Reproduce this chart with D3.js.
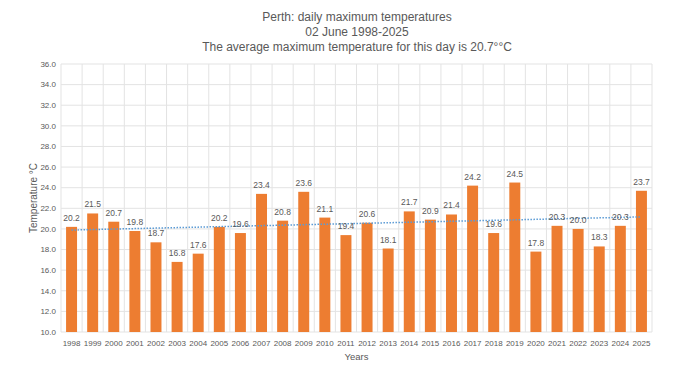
<!DOCTYPE html>
<html>
<head>
<meta charset="utf-8">
<script src="https://cdn.jsdelivr.net/npm/d3@7"></script>
<style>
  body { margin: 0; background: #fff; }
  text { font-family: "Liberation Sans", Arial, sans-serif; fill: #595959; }
</style>
</head>
<body>
<div id="chart"></div>
<script>
var years = ["1998","1999","2000","2001","2002","2003","2004","2005","2006","2007",
  "2008","2009","2010","2011","2012","2013","2014","2015","2016","2017",
  "2018","2019","2020","2021","2022","2023","2024","2025"];
var temps = [20.2,21.5,20.7,19.8,18.7,16.8,17.6,20.2,19.6,23.4,
  20.8,23.6,21.1,19.4,20.6,18.1,21.7,20.9,21.4,24.2,
  19.6,24.5,17.8,20.3,20.0,18.3,20.3,23.7];
var yTicks = [10,12,14,16,18,20,22,24,26,28,30,32,34,36];
var titleLines = ["Perth: daily maximum temperatures", "02 June 1998-2025",
  "The average maximum temperature for this day is 20.7°°C"];

var width = 679, height = 375;
var margin = {top: 64, right: 27, bottom: 43, left: 61};

var svg = d3.select("#chart").append("svg")
    .attr("width", width)
    .attr("height", height);

var x = d3.scaleBand()
    .domain(years)
    .range([margin.left, width - margin.right])
    .paddingInner(0.48)
    .paddingOuter(0.24);

var y = d3.scaleLinear()
    .domain([10, 36])
    .range([height - margin.bottom, margin.top]);

// horizontal grid
svg.append("g")
  .selectAll("line")
  .data(yTicks)
  .enter().append("line")
    .attr("x1", margin.left)
    .attr("x2", width - margin.right)
    .attr("y1", function(d) { return y(d); })
    .attr("y2", function(d) { return y(d); })
    .attr("stroke", "#e3e3e3")
    .attr("stroke-width", 1);

// vertical grid at category boundaries
var colW = (width - margin.left - margin.right) / years.length;
svg.append("g")
  .selectAll("line")
  .data(d3.range(years.length + 1))
  .enter().append("line")
    .attr("x1", function(i) { return margin.left + i * colW; })
    .attr("x2", function(i) { return margin.left + i * colW; })
    .attr("y1", y(10))
    .attr("y2", y(36))
    .attr("stroke", "#e3e3e3")
    .attr("stroke-width", 1);

// y axis labels
svg.append("g")
  .selectAll("text")
  .data(yTicks)
  .enter().append("text")
    .attr("x", margin.left - 5)
    .attr("y", function(d) { return y(d); })
    .attr("dy", "0.35em")
    .attr("text-anchor", "end")
    .style("font-size", "8px")
    .text(function(d) { return d.toFixed(1); });

// x axis labels
svg.append("g")
  .selectAll("text")
  .data(years)
  .enter().append("text")
    .attr("x", function(d) { return x(d) + x.bandwidth() / 2; })
    .attr("y", y(10) + 14)
    .attr("text-anchor", "middle")
    .style("font-size", "8px")
    .text(function(d) { return d; });

// bars
svg.append("g")
  .selectAll("rect")
  .data(temps)
  .enter().append("rect")
    .attr("x", function(d, i) { return x(years[i]); })
    .attr("width", x.bandwidth())
    .attr("y", function(d) { return y(d); })
    .attr("height", function(d) { return y(10) - y(d); })
    .attr("fill", "#ED7D31");

// linear trend (least squares)
var n = temps.length;
var xs = d3.range(n);
var mx = d3.mean(xs), my = d3.mean(temps);
var slope = d3.sum(xs, function(i) { return (i - mx) * (temps[i] - my); }) /
            d3.sum(xs, function(i) { return (i - mx) * (i - mx); });
var icpt = my - slope * mx;
var trend = xs.map(function(i) { return [x(years[i]) + x.bandwidth() / 2, y(icpt + slope * i)]; });

svg.append("path")
    .attr("d", d3.line()(trend))
    .attr("fill", "none")
    .attr("stroke", "#5B9BD5")
    .attr("stroke-width", 1.5)
    .attr("stroke-dasharray", "1.5,1.5");

// value labels
svg.append("g")
  .selectAll("text")
  .data(temps)
  .enter().append("text")
    .attr("x", function(d, i) { return x(years[i]) + x.bandwidth() / 2; })
    .attr("y", function(d) { return y(d) - 6; })
    .attr("text-anchor", "middle")
    .style("font-size", "8.5px")
    .text(function(d) { return d.toFixed(1); });

// titles
svg.append("g")
  .selectAll("text")
  .data(titleLines)
  .enter().append("text")
    .attr("x", 357)
    .attr("y", function(d, i) { return 21 + i * 15; })
    .attr("text-anchor", "middle")
    .style("font-size", "12px")
    .text(function(d) { return d; });

svg.append("text")
    .attr("transform", "translate(37," + ((y(10) + y(36)) / 2) + ")rotate(-90)")
    .attr("text-anchor", "middle")
    .style("font-size", "10px")
    .text("Temperature °C");

svg.append("text")
    .attr("x", (margin.left + width - margin.right) / 2)
    .attr("y", 360)
    .attr("text-anchor", "middle")
    .style("font-size", "9.5px")
    .text("Years");
</script>
</body>
</html>
